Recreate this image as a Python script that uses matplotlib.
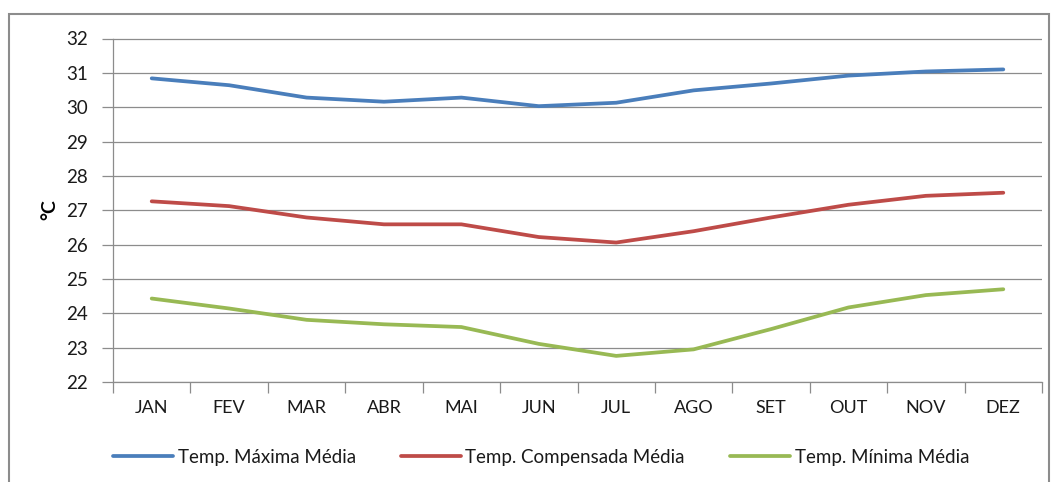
import matplotlib
matplotlib.use("Agg")
import matplotlib.pyplot as plt
from matplotlib.patches import Rectangle

months = ["JAN", "FEV", "MAR", "ABR", "MAI", "JUN", "JUL", "AGO", "SET", "OUT", "NOV", "DEZ"]
t_max = [30.84, 30.64, 30.28, 30.16, 30.28, 30.03, 30.13, 30.49, 30.69, 30.92, 31.04, 31.10]
t_comp = [27.26, 27.12, 26.79, 26.59, 26.59, 26.22, 26.06, 26.39, 26.79, 27.16, 27.42, 27.51]
t_min = [24.43, 24.14, 23.81, 23.68, 23.60, 23.11, 22.76, 22.95, 23.54, 24.17, 24.53, 24.70]
series_names = ["Temp. Máxima Média", "Temp. Compensada Média", "Temp. Mínima Média"]
colors = ["#4A7EBB", "#BE4B48", "#98B954"]

plt.rcParams['font.family'] = ['Lato', 'DejaVu Sans']

W, H = 1055, 482
fig = plt.figure(figsize=(W / 100, H / 100), dpi=100)
ax = fig.add_axes([113 / W, 1 - 382 / H, (1042 - 113) / W, (382 - 38.5) / H])

# Figure border
fig.patches.append(Rectangle((9 / W, -0.05), (1049 - 9) / W, (H - 14) / H + 0.05,
                             transform=fig.transFigure, fill=False,
                             edgecolor="#8C8C8C", linewidth=1.5))

x = list(range(len(months)))
lines = []
for vals, name, c in zip([t_max, t_comp, t_min], series_names, colors):
    ln, = ax.plot(x, vals, color=c, linewidth=2.7, label=name, solid_capstyle="round")
    lines.append(ln)

ax.set_xlim(-0.5, len(months) - 0.5)
ax.set_ylim(22, 32)
ax.set_yticks(range(22, 33))
ax.grid(axis="y", color="#8C8C8C", linewidth=0.9)
ax.set_axisbelow(True)

ax.set_xticks([i + 0.5 for i in range(-1, len(months))], minor=False)
ax.set_xticklabels([])
ax.set_xticks(x, minor=True)
ax.set_xticklabels(months, minor=True)
ax.tick_params(axis="x", which="major", direction="out", length=8, color="#8C8C8C", width=0.9)
ax.tick_params(axis="x", which="minor", length=0, pad=13, labelsize=13, colors="#1a1a1a")
ax.tick_params(axis="y", direction="out", length=8, color="#8C8C8C", width=0.9,
               labelsize=13.5, pad=10, labelcolor="#1a1a1a")

for s in ["top", "right"]:
    ax.spines[s].set_visible(False)
for s in ["left", "bottom"]:
    ax.spines[s].set_color("#8C8C8C")
    ax.spines[s].set_linewidth(0.9)

fig.text(50 / W, 1 - 210 / H, "°C", rotation=90, ha="center", va="center",
         fontsize=14, fontweight="bold")

fig.legend(handles=lines, loc="center", bbox_to_anchor=(541 / W, 1 - 457 / H),
           ncol=3, frameon=False, fontsize=13.5, handlelength=3.2, handletextpad=0.25,
           columnspacing=2.4, labelcolor="#1a1a1a")

fig.savefig("out.png", dpi=100)
